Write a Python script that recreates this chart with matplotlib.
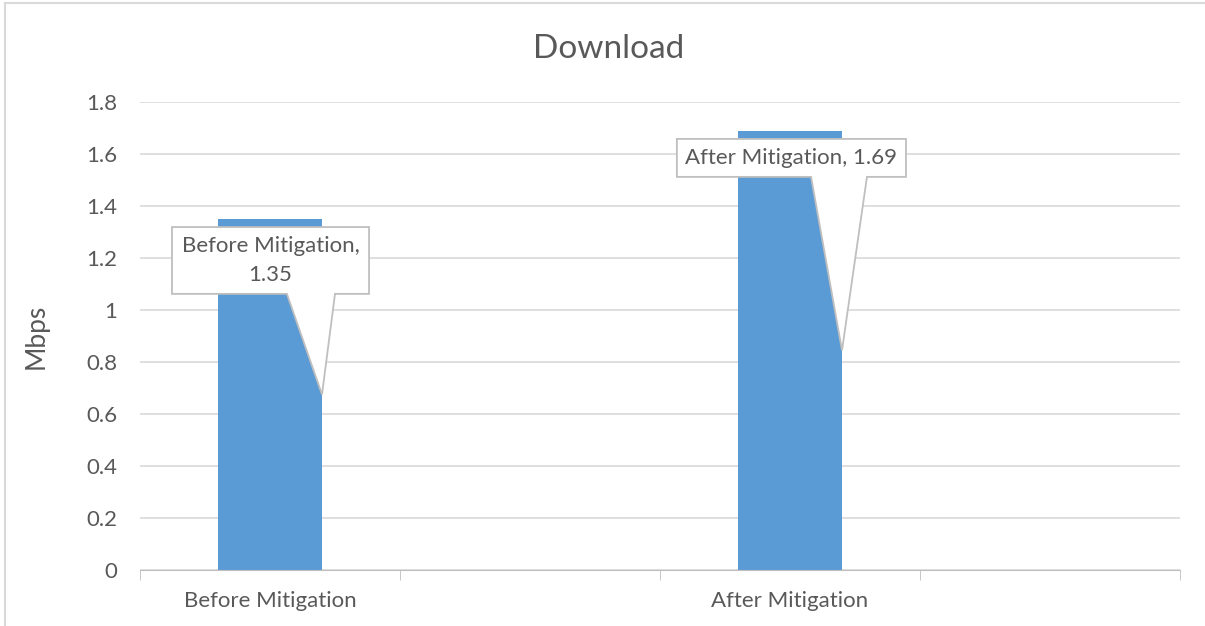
import matplotlib.pyplot as plt
from matplotlib.patches import Polygon
from matplotlib.lines import Line2D

plt.rcParams['font.family'] = ['Lato', 'DejaVu Sans']

# valores de la grafica
categorias = ['Before Mitigation', '', 'After Mitigation', '']
valores = [1.35, None, 1.69, None]
titulo = 'Download'
etiqueta_y = 'Mbps'
yticks = [0, 0.2, 0.4, 0.6, 0.8, 1, 1.2, 1.4, 1.6, 1.8]

# cajas de las etiquetas: (x0, x1, y0, y1, base izq, base der)
cajas = {0: (-0.377, 0.381, 1.062, 1.319, 0.065, 0.25),
         2: (1.565, 2.446, 1.512, 1.658, 2.081, 2.296)}

gris = '#595959'
azul = '#5B9BD5'
ancho = 0.4

fig = plt.figure(figsize=(12.05, 6.26), dpi=100)
ax = fig.add_axes([140 / 1205, 1 - 570 / 626, 1040 / 1205, 468 / 626])

pos = [i for i, v in enumerate(valores) if v is not None]
alturas = [valores[i] for i in pos]
ax.bar(pos, alturas, width=ancho, color=azul, zorder=2)

ax.set_xlim(-0.5, 3.5)
ax.set_ylim(0, 1.8)
ax.set_yticks(yticks)
ax.set_yticklabels([('%g' % t) for t in yticks], fontsize=16, color=gris)
ax.set_xticks(range(len(categorias)))
ax.set_xticklabels(categorias, fontsize=16, color=gris)
ax.set_xticks([-0.5, 0.5, 1.5, 2.5, 3.5], minor=True)
ax.tick_params(axis='x', which='major', length=0, pad=15)
ax.tick_params(axis='x', which='minor', length=7, color='#BFBFBF', direction='out')
ax.tick_params(axis='y', length=0, pad=16.5)
ax.grid(axis='y', color='#D9D9D9', linewidth=1.2, zorder=0)
ax.set_axisbelow(True)
for s in ['top', 'right', 'left']:
    ax.spines[s].set_visible(False)
ax.spines['bottom'].set_color('#BFBFBF')
ax.spines['bottom'].set_zorder(3)

ax.set_ylabel(etiqueta_y, fontsize=19, color=gris)
ax.yaxis.set_label_coords(-0.088, 0.5)
fig.text(609 / 1205, 1 - 49 / 626, titulo, fontsize=24, color=gris,
         ha='center', va='center')

# etiquetas de datos con flecha
for i in pos:
    v = valores[i]
    x0, x1, y0, y1, b0, b1 = cajas[i]
    punta = (i + ancho / 2, v / 2)
    pts = [(x0, y1), (x1, y1), (x1, y0), (b1, y0), punta, (b0, y0), (x0, y0)]
    ax.add_patch(Polygon(pts, closed=True, facecolor='white', edgecolor='#BFBFBF',
                         linewidth=1.3, zorder=4))
    if i == 0:
        texto = categorias[i] + ',\n' + '%.2f' % v
    else:
        texto = categorias[i] + ', ' + '%.2f' % v
    ax.text((x0 + x1) / 2, (y0 + y1) / 2, texto, ha='center', va='center',
            fontsize=16, color=gris, zorder=5, linespacing=1.6)

# borde del area del grafico
fig.add_artist(Line2D([5 / 1205, 5 / 1205], [0, 1 - 3 / 626], color='#D9D9D9', lw=1.5))
fig.add_artist(Line2D([5 / 1205, 1], [1 - 3 / 626, 1 - 3 / 626], color='#D9D9D9', lw=1.5))

fig.savefig('out.png', dpi=100)
